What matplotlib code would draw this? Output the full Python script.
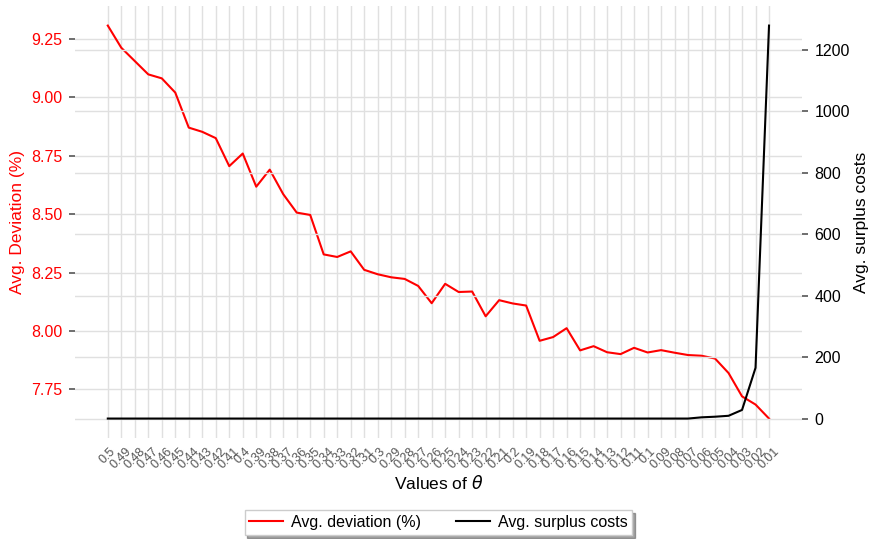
import matplotlib
matplotlib.use("Agg")
import matplotlib.pyplot as plt
import numpy as np

plt.rcParams['font.family'] = ['Liberation Sans', 'DejaVu Sans']

theta_labels = ['0.5', '0.49', '0.48', '0.47', '0.46', '0.45', '0.44', '0.43', '0.42', '0.41',
                '0.4', '0.39', '0.38', '0.37', '0.36', '0.35', '0.34', '0.33', '0.32', '0.31',
                '0.3', '0.29', '0.28', '0.27', '0.26', '0.25', '0.24', '0.23', '0.22', '0.21',
                '0.2', '0.19', '0.18', '0.17', '0.16', '0.15', '0.14', '0.13', '0.12', '0.11',
                '0.1', '0.09', '0.08', '0.07', '0.06', '0.05', '0.04', '0.03', '0.02', '0.01']

avg_deviation = [9.308, 9.213, 9.156, 9.099, 9.082, 9.021, 8.871, 8.853, 8.826, 8.706,
                 8.760, 8.618, 8.691, 8.586, 8.507, 8.497, 8.328, 8.317, 8.341, 8.262,
                 8.243, 8.230, 8.223, 8.193, 8.119, 8.202, 8.167, 8.169, 8.063, 8.132,
                 8.118, 8.109, 7.958, 7.974, 8.012, 7.917, 7.935, 7.909, 7.901, 7.928,
                 7.908, 7.918, 7.907, 7.897, 7.894, 7.882, 7.820, 7.720, 7.685, 7.625]

avg_surplus = [0, 0, 0, 0, 0, 0, 0, 0, 0, 0,
               0, 0, 0, 0, 0, 0, 0, 0, 0, 0,
               0, 0, 0, 0, 0, 0, 0, 0, 0, 0,
               0, 0, 0, 0, 0, 0, 0, 0, 0, 0,
               0, 0, 0, 0, 4, 6, 9, 28, 165, 1278]

left_ticks = [7.75, 8.00, 8.25, 8.50, 8.75, 9.00, 9.25]
right_ticks = [0, 200, 400, 600, 800, 1000, 1200]

x = np.arange(len(theta_labels))

fig = plt.figure(figsize=(8.69, 5.39), dpi=100)
ax1 = fig.add_axes([0.086, 0.187, 0.837, 0.802])
ax2 = ax1.twinx()

grid_color = '#e0e0e0'
for ax in (ax1, ax2):
    for s in ax.spines.values():
        s.set_visible(False)
    ax.grid(True, color=grid_color, linewidth=1.0)
    ax.set_axisbelow(True)
    ax.set_facecolor('none')

l1, = ax1.plot(x, avg_deviation, color='red', linewidth=1.5, label='Avg. deviation (%)')
l2, = ax2.plot(x, avg_surplus, color='black', linewidth=1.5, label='Avg. surplus costs')

ax1.set_xticks(x)
ax1.set_xticklabels(theta_labels, rotation=45, fontsize=9, color='#555555')
ax1.tick_params(axis='x', length=0, pad=5)

ax1.set_yticks(left_ticks)
ax1.set_yticklabels([f'{v:.2f}' for v in left_ticks], color='red', fontsize=11.5)
ax1.tick_params(axis='y', length=4, width=1.2, color='#555555', pad=5)
ax2.set_yticks(right_ticks)
ax2.set_yticklabels([str(v) for v in right_ticks], color='black', fontsize=11.5)
ax2.tick_params(axis='y', length=4, width=1.2, color='#555555', pad=5)

ax1.set_ylabel('Avg. Deviation (%)', color='red', fontsize=12.5)
ax2.set_ylabel('Avg. surplus costs', color='black', fontsize=12.5, labelpad=3)
ax1.set_xlabel(r'Values of $\theta$', fontsize=12.5, labelpad=2)

leg = ax1.legend(handles=[l1, l2], loc='upper center', bbox_to_anchor=(0.5, -0.148),
                 ncol=2, shadow=True, fancybox=False, fontsize=11.5, frameon=True,
                 edgecolor='#cccccc', columnspacing=2.2, handlelength=2.1,
                 handletextpad=0.5, borderpad=0.3)

fig.savefig('out.png', dpi=100)
